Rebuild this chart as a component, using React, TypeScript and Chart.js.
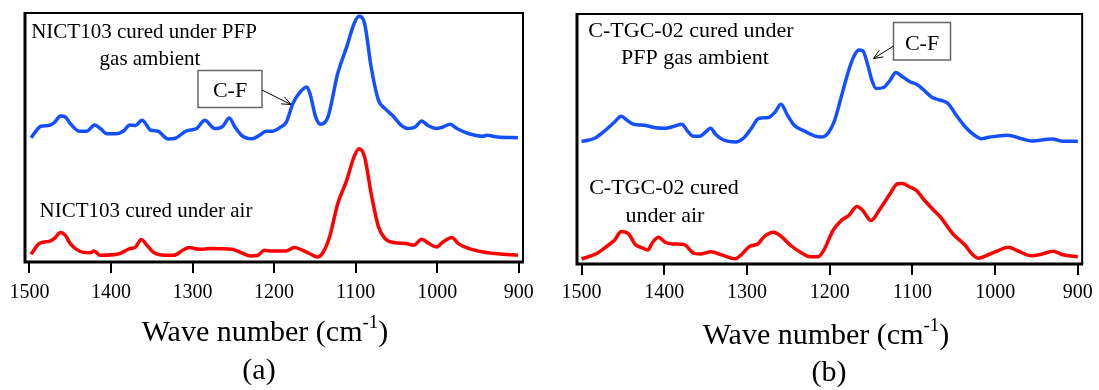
import React, { useEffect, useRef } from "react";
import { Chart, registerables } from "chart.js";

Chart.register(...registerables);

const FONT = '"Liberation Serif", "Times New Roman", serif';

// Tick labels (wave number, cm^-1)
const tickValues = [1500, 1400, 1300, 1200, 1100, 1000, 900];

// (a) NICT103 cured under PFP gas ambient  [wave number, intensity a.u.]
const nictPfp: [number, number][] = [
  [1498, 49.9], [1493, 52.2], [1486, 54.5], [1475, 54.9], [1469, 56.2], [1462, 58.6], [1456, 58.2],
  [1450, 55.6], [1439, 52.5], [1430, 52.5], [1420, 55.0], [1413, 53.6], [1405, 51.5], [1394, 51.5],
  [1385, 52.5], [1377, 55.0], [1370, 54.8], [1362, 56.9], [1351, 52.9], [1343, 52.6], [1330, 49.4],
  [1321, 49.7], [1308, 52.6], [1295, 53.6], [1285, 56.9], [1273, 53.6], [1263, 54.5], [1255, 57.8],
  [1248, 54.2], [1240, 50.9], [1227, 49.5], [1218, 50.9], [1210, 52.5], [1203, 52.5], [1192, 54.2],
  [1185, 56.2], [1177, 63.6], [1169, 67.9], [1160, 70.3], [1156, 67.6], [1149, 58.2], [1143, 55.3],
  [1134, 58.2], [1122, 75.7], [1111, 86.4], [1102, 95.7], [1096, 98.7], [1089, 95.7], [1081, 78.3],
  [1072, 64.9], [1064, 61.6], [1055, 58.9], [1044, 54.9], [1036, 53.6], [1027, 54.2], [1019, 56.6],
  [1012, 54.9], [1001, 53.6], [993, 54.2], [984, 55.3], [976, 53.6], [961, 51.5], [944, 50.5],
  [939, 50.9], [926, 50.2], [901, 49.9],
];

// (a) NICT103 cured under air
const nictAir: [number, number][] = [
  [1498, 3.1], [1488, 7.4], [1475, 8.4], [1469, 9.6], [1462, 11.8], [1456, 10.7], [1450, 7.4],
  [1439, 4.4], [1426, 3.7], [1421, 4.4], [1413, 2.7], [1390, 3.3], [1377, 5.4], [1370, 6.0],
  [1363, 9.0], [1355, 6.3], [1347, 3.7], [1334, 2.7], [1323, 2.7], [1312, 4.7], [1304, 5.8],
  [1291, 5.1], [1278, 5.4], [1252, 5.1], [1240, 3.7], [1229, 2.4], [1220, 2.7], [1212, 4.7],
  [1203, 4.4], [1186, 4.4], [1175, 5.8], [1167, 5.0], [1156, 3.3], [1147, 2.0], [1141, 3.3],
  [1132, 10.0], [1122, 23.4], [1111, 32.8], [1102, 42.2], [1096, 45.5], [1089, 42.2], [1081, 27.5],
  [1072, 14.1], [1064, 9.4], [1053, 7.8], [1038, 7.4], [1029, 6.7], [1019, 9.1], [1010, 7.4],
  [1001, 6.0], [993, 8.0], [982, 9.8], [974, 7.4], [961, 5.4], [944, 4.0], [926, 3.3], [901, 2.7],
];

// (b) C-TGC-02 cured under PFP gas ambient
const tgcPfp: [number, number][] = [
  [1500, 49.1], [1492, 49.5], [1483, 50.5], [1471, 53.5], [1460, 56.8], [1452, 59.1], [1445, 57.5],
  [1437, 55.9], [1424, 55.5], [1411, 54.5], [1399, 54.3], [1388, 55.1], [1379, 55.9], [1371, 52.8],
  [1365, 51.1], [1357, 51.1], [1349, 53.1], [1344, 54.3], [1338, 51.9], [1329, 49.7], [1314, 48.8],
  [1304, 50.4], [1295, 54.1], [1286, 58.2], [1274, 58.6], [1266, 60.8], [1259, 63.9], [1251, 59.5],
  [1243, 55.5], [1230, 53.1], [1217, 51.1], [1209, 50.8], [1201, 52.8], [1194, 57.5], [1186, 66.9],
  [1177, 77.5], [1171, 82.9], [1165, 85.6], [1160, 85.3], [1154, 79.6], [1149, 73.5], [1144, 70.2],
  [1135, 70.6], [1127, 73.5], [1120, 76.6], [1112, 74.9], [1103, 72.9], [1095, 71.9], [1087, 69.8],
  [1076, 66.6], [1066, 65.5], [1057, 64.2], [1047, 59.5], [1036, 54.8], [1025, 51.5], [1017, 50.1],
  [1006, 50.8], [985, 51.5], [968, 50.1], [956, 49.2], [931, 50.0], [918, 49.1], [900, 49.1],
];

// (b) C-TGC-02 cured under air
const tgcAir: [number, number][] = [
  [1500, 2.0], [1483, 4.0], [1471, 6.7], [1460, 9.6], [1452, 13.0], [1443, 12.0], [1435, 7.8],
  [1426, 6.4], [1420, 5.6], [1414, 8.7], [1407, 10.7], [1399, 8.7], [1390, 8.0], [1376, 7.8],
  [1365, 4.4], [1357, 4.0], [1343, 4.9], [1331, 3.7], [1314, 2.1], [1306, 4.0], [1297, 7.0],
  [1287, 8.0], [1279, 11.0], [1268, 12.7], [1260, 11.4], [1247, 7.4], [1234, 4.4], [1224, 2.9],
  [1214, 2.9], [1207, 5.6], [1196, 13.4], [1186, 17.4], [1177, 19.4], [1167, 23.0], [1160, 21.4],
  [1150, 17.4], [1139, 22.1], [1127, 28.1], [1118, 32.1], [1112, 32.2], [1103, 30.8], [1095, 29.4],
  [1087, 26.1], [1076, 22.1], [1066, 18.7], [1051, 12.0], [1036, 7.4], [1028, 4.0], [1020, 2.3],
  [1011, 3.3], [998, 5.1], [984, 6.7], [973, 5.3], [956, 3.3], [943, 4.0], [930, 5.1], [918, 3.7],
  [900, 2.9],
];

const BLUE = "#1450ff";
const RED = "#ff0000";

type TextItem = { text: string; x: number; y: number; size: number };
type Decor = {
  texts: TextItem[];
  box: { x: number; y: number; w: number; h: number; label: string; ty: number };
  arrow: { x1: number; y1: number; x2: number; y2: number };
  title: { cx: number; y: number };
  letter: { text: string; cx: number; y: number };
};

const decorPlugin = {
  id: "decor",
  afterDraw(chart: any, _args: any, opts: Decor) {
    const { ctx, chartArea: a } = chart;
    ctx.save();
    // frame
    ctx.strokeStyle = "#000";
    ctx.lineWidth = 2;
    ctx.beginPath();
    ctx.moveTo(a.left, a.top);
    ctx.lineTo(a.right, a.top);
    ctx.lineTo(a.right, a.bottom);
    ctx.stroke();
    ctx.lineWidth = 3;
    ctx.beginPath();
    ctx.moveTo(a.left, a.top - 1);
    ctx.lineTo(a.left, a.bottom);
    ctx.lineTo(a.right + 1, a.bottom);
    ctx.stroke();

    ctx.fillStyle = "#000";
    ctx.textBaseline = "alphabetic";
    ctx.textAlign = "center";
    for (const t of opts.texts) {
      ctx.font = `${t.size}px ${FONT}`;
      ctx.fillText(t.text, t.x, t.y);
    }
    // C-F box
    const b = opts.box;
    ctx.fillStyle = "#fff";
    ctx.fillRect(b.x, b.y, b.w, b.h);
    ctx.strokeStyle = "#666";
    ctx.lineWidth = 1.5;
    ctx.strokeRect(b.x, b.y, b.w, b.h);
    ctx.fillStyle = "#000";
    ctx.font = `22px ${FONT}`;
    ctx.fillText(b.label, b.x + b.w / 2, b.ty);
    // arrow
    const ar = opts.arrow;
    ctx.strokeStyle = "#000";
    ctx.lineWidth = 1;
    ctx.beginPath();
    ctx.moveTo(ar.x1, ar.y1);
    ctx.lineTo(ar.x2, ar.y2);
    const ang = Math.atan2(ar.y2 - ar.y1, ar.x2 - ar.x1);
    const hl = 10;
    ctx.moveTo(ar.x2 - hl * Math.cos(ang - 0.4), ar.y2 - hl * Math.sin(ang - 0.4));
    ctx.lineTo(ar.x2, ar.y2);
    ctx.lineTo(ar.x2 - hl * Math.cos(ang + 0.4), ar.y2 - hl * Math.sin(ang + 0.4));
    ctx.stroke();
    // axis title with superscript
    const p1 = "Wave number (cm";
    const p2 = "-1";
    const p3 = ")";
    ctx.textAlign = "left";
    ctx.font = `30px ${FONT}`;
    const w1 = ctx.measureText(p1).width;
    const w3 = ctx.measureText(p3).width;
    ctx.font = `19px ${FONT}`;
    const w2 = ctx.measureText(p2).width;
    let x = opts.title.cx - (w1 + w2 + w3) / 2;
    ctx.font = `30px ${FONT}`;
    ctx.fillText(p1, x, opts.title.y);
    x += w1;
    ctx.font = `19px ${FONT}`;
    ctx.fillText(p2, x, opts.title.y - 13);
    x += w2;
    ctx.font = `30px ${FONT}`;
    ctx.fillText(p3, x, opts.title.y);
    ctx.textAlign = "center";
    ctx.fillText(opts.letter.text, opts.letter.cx, opts.letter.y);
    ctx.restore();
  },
};

function makeConfig(
  upper: [number, number][],
  lower: [number, number][],
  pad: { left: number; right: number; top: number },
  axisHeight: number,
  tickPad: number,
  decor: Decor
): any {
  const toPts = (arr: [number, number][]) => arr.map(([x, y]) => ({ x, y }));
  return {
    type: "line",
    data: {
      datasets: [
        {
          data: toPts(upper),
          borderColor: BLUE,
          borderWidth: 3.5,
          pointRadius: 0,
          cubicInterpolationMode: "monotone",
          fill: false,
        },
        {
          data: toPts(lower),
          borderColor: RED,
          borderWidth: 3.5,
          pointRadius: 0,
          cubicInterpolationMode: "monotone",
          fill: false,
        },
      ],
    },
    options: {
      responsive: false,
      animation: false,
      events: [],
      layout: { padding: { left: pad.left, right: pad.right, top: pad.top, bottom: 0 } },
      plugins: { legend: { display: false }, tooltip: { enabled: false }, decor },
      scales: {
        x: {
          type: "linear",
          reverse: true,
          min: 894.8,
          max: 1505.5,
          afterBuildTicks: (scale: any) => {
            scale.ticks = tickValues.map((v) => ({ value: v }));
          },
          afterFit: (scale: any) => {
            scale.height = axisHeight;
          },
          border: { display: false },
          grid: {
            drawOnChartArea: false,
            drawTicks: true,
            tickLength: 11,
            color: "#000",
            lineWidth: 2,
          },
          ticks: {
            color: "#000",
            font: { family: FONT, size: 20 },
            padding: tickPad,
            maxRotation: 0,
            autoSkip: false,
            callback: (v: any) => String(v),
          },
        },
        y: { display: false, min: 0, max: 100 },
      },
    },
    plugins: [decorPlugin],
  };
}

function Panel(props: { left: number; width: number; config: any }) {
  const ref = useRef<HTMLCanvasElement | null>(null);
  useEffect(() => {
    if (!ref.current) return;
    const chart = new Chart(ref.current, props.config);
    return () => chart.destroy();
  }, []);
  return (
    <canvas
      ref={ref}
      width={props.width}
      height={390}
      style={{ position: "absolute", left: props.left, top: 0, width: props.width, height: 390 }}
    />
  );
}

export default function App() {
  const cfgA = makeConfig(nictPfp, nictAir, { left: 25, right: 27, top: 13 }, 128, 8, {
    texts: [
      { text: "NICT103 cured under PFP", x: 144, y: 38, size: 21 },
      { text: "gas ambient", x: 150, y: 64.5, size: 21 },
      { text: "NICT103 cured under air", x: 146, y: 216.5, size: 21 },
    ],
    box: { x: 198, y: 70.5, w: 64, h: 37, label: "C-F", ty: 97 },
    arrow: { x1: 262, y1: 90, x2: 291, y2: 104.5 },
    title: { cx: 265, y: 341 },
    letter: { text: "(a)", cx: 259, y: 379 },
  });
  const cfgB = makeConfig(tgcPfp, tgcAir, { left: 27, right: 16, top: 14 }, 126, 6, {
    texts: [
      { text: "C-TGC-02 cured under", x: 141, y: 36.5, size: 22 },
      { text: "PFP gas ambient", x: 145, y: 63.5, size: 22 },
      { text: "C-TGC-02 cured", x: 114, y: 194, size: 22 },
      { text: "under air", x: 115, y: 222, size: 22 },
    ],
    box: { x: 343.5, y: 22.5, w: 57, h: 37.5, label: "C-F", ty: 50 },
    arrow: { x1: 343.5, y1: 46, x2: 323.5, y2: 58.5 },
    title: { cx: 276, y: 344 },
    letter: { text: "(b)", cx: 279, y: 381 },
  });
  return (
    <div style={{ position: "absolute", left: 0, top: 0, width: 1099, height: 390, background: "#fff", overflow: "hidden" }}>
      <Panel left={0} width={550} config={cfgA} />
      <Panel left={550} width={549} config={cfgB} />
    </div>
  );
}
